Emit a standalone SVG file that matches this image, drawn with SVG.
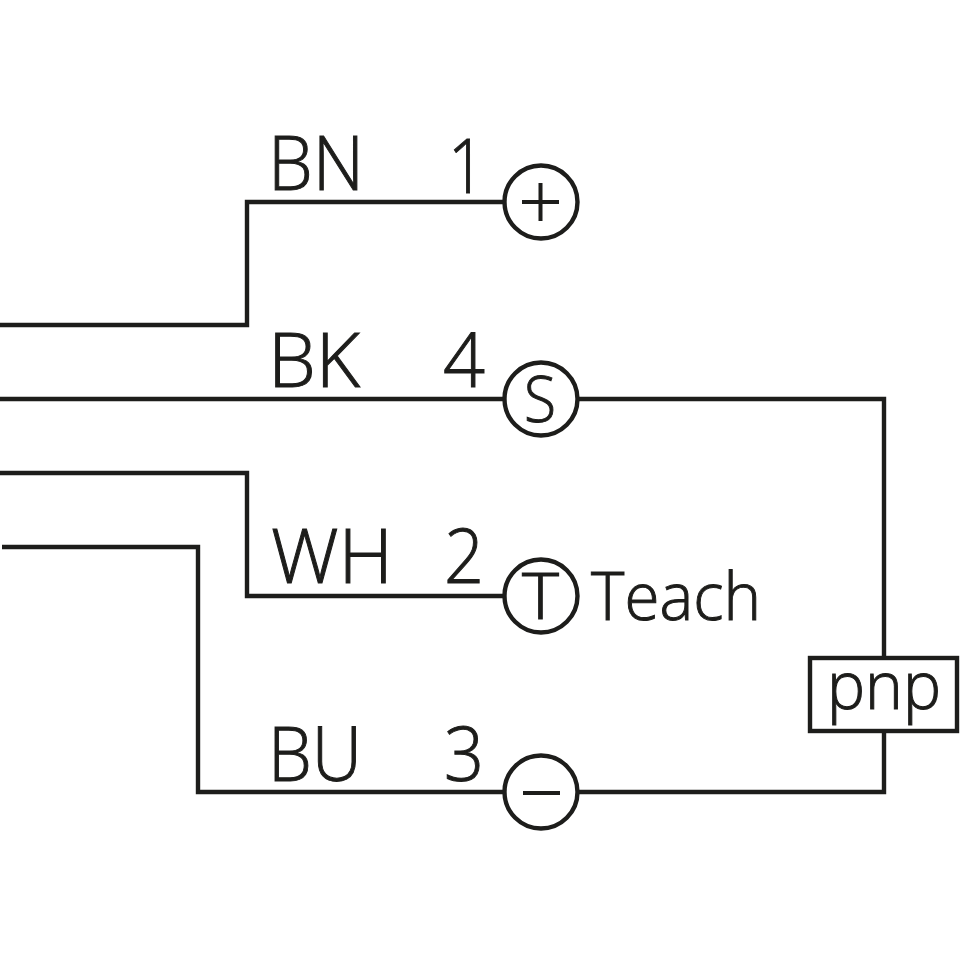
<svg xmlns="http://www.w3.org/2000/svg" width="960" height="960" viewBox="0 0 960 960">
<style>
.w{fill:none;stroke:#1d1d1b;stroke-width:4.4}
.c{fill:#fff;stroke:#1d1d1b;stroke-width:4.4}
.g{fill:none;stroke:#1d1d1b;stroke-width:4}
text{font-family:"Open Sans","Noto Sans",sans-serif;font-weight:300;fill:#1d1d1b;stroke:#1d1d1b;stroke-width:1;font-size:75px}
.s{font-size:64px}
.t{font-size:66px}
</style>
<rect width="960" height="960" fill="#fff"/>
<g id="connectors">
<path class="w" d="M0 325H247V202H504"/>
<path class="w" d="M0 399H504M578 399H884V657M884 732V792H578"/>
<path class="w" d="M0 473H247V596H504"/>
<path class="w" d="M2 547H198V792H504"/>
</g>
<g id="labels">
<text x="268" y="190" textLength="96" lengthAdjust="spacingAndGlyphs">BN</text>
<text x="448" y="193" textLength="37" lengthAdjust="spacingAndGlyphs">1</text>
<text x="268" y="387" textLength="92" lengthAdjust="spacingAndGlyphs">BK</text>
<text x="443" y="387" textLength="42" lengthAdjust="spacingAndGlyphs">4</text>
<text x="271" y="583" textLength="122" lengthAdjust="spacingAndGlyphs">WH</text>
<text x="444" y="583" textLength="40" lengthAdjust="spacingAndGlyphs">2</text>
<text x="268" y="781" textLength="94" lengthAdjust="spacingAndGlyphs">BU</text>
<text x="444" y="781" textLength="40" lengthAdjust="spacingAndGlyphs">3</text>
</g>
<g id="node-plus"><circle class="c" cx="541" cy="202" r="36.5"/><path class="g" d="M522 202H559M540.500 183V221"/></g>
<g id="node-s"><circle class="c" cx="541" cy="399" r="36.500"/><text class="s" x="524" y="422" textLength="32" lengthAdjust="spacingAndGlyphs">S</text></g>
<g id="node-t"><circle class="c" cx="541" cy="596" r="36.500"/><text class="s" x="522" y="619" textLength="37" lengthAdjust="spacingAndGlyphs">T</text></g>
<g id="node-minus"><circle class="c" cx="541" cy="792" r="36.500"/><path class="g" d="M523 793H560"/></g>
<g id="teach"><text class="t" x="591" y="620" textLength="170" lengthAdjust="spacingAndGlyphs">Teach</text></g>
<g id="pnp"><rect class="c" x="810" y="658" width="147" height="73"/><text class="t" x="827" y="709" textLength="114" lengthAdjust="spacingAndGlyphs">pnp</text></g>
</svg>
